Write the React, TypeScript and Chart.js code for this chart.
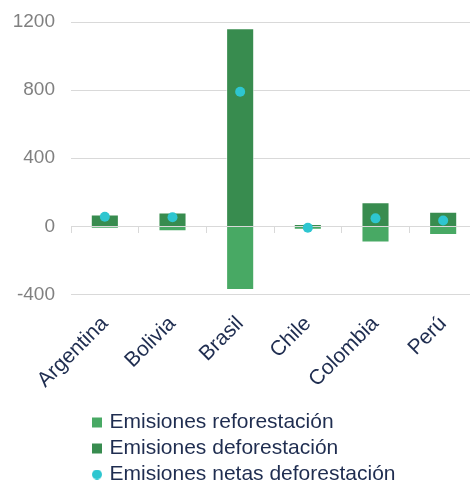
import { useEffect, useRef } from 'react';
import { Chart, registerables } from 'chart.js';

Chart.register(...registerables);

const categories = ['Argentina', 'Bolivia', 'Brasil', 'Chile', 'Colombia', 'Perú'];
const reforestacion = [-14, -28, -373, -20, -94, -51];
const deforestacion = [70, 82, 1163, 12, 141, 86];
const netas = [56, 54, 790, -8, 47, 35];
const yTickValues = [-400, 0, 400, 800, 1200];
const seriesNames = [
  'Emisiones reforestación',
  'Emisiones deforestación',
  'Emisiones netas deforestación',
];

const COLOR_REF = '#48a964';
const COLOR_DEF = '#388c4f';
const COLOR_NET = '#2ec6d0';
const GRID = '#d9d9d9';
const TEXT_DARK = '#1f2d50';
const TEXT_GRAY = '#808080';
const FONT = "'Liberation Sans', Arial, sans-serif";

function makeDot(color: string, d: number) {
  const c = document.createElement('canvas');
  c.width = d;
  c.height = d;
  const g = c.getContext('2d')!;
  g.fillStyle = color;
  g.beginPath();
  g.arc(d / 2, d / 2, d / 2, 0, Math.PI * 2);
  g.fill();
  return c;
}

export default function App() {
  const ref = useRef<HTMLCanvasElement | null>(null);

  useEffect(() => {
    if (!ref.current) return;
    const dot = makeDot(COLOR_NET, 10);
    const legendShift = {
      id: 'legendShift',
      afterLayout(chart: any) {
        const lg = chart.legend;
        if (lg) {
          lg.left += 19;
          lg.right += 19;
        }
      },
    };
    const chart = new Chart(ref.current, {
      type: 'bar',
      data: {
        labels: categories,
        datasets: [
          {
            label: seriesNames[0],
            data: reforestacion,
            backgroundColor: COLOR_REF,
            borderColor: 'rgba(255,255,255,0.6)',
            borderWidth: 1,
            stack: 'bars',
            order: 1,
            barPercentage: 0.415,
            categoryPercentage: 1,
          },
          {
            label: seriesNames[1],
            data: deforestacion,
            backgroundColor: COLOR_DEF,
            borderColor: 'rgba(255,255,255,0.6)',
            borderWidth: 1,
            stack: 'bars',
            order: 1,
            barPercentage: 0.415,
            categoryPercentage: 1,
          },
          {
            type: 'line',
            label: seriesNames[2],
            data: netas,
            showLine: false,
            backgroundColor: COLOR_NET,
            borderColor: COLOR_NET,
            pointRadius: 5,
            pointBorderWidth: 0,
            pointHoverRadius: 5,
            stack: 'net',
            order: 0,
          } as any,
        ],
      },
      options: {
        responsive: false,
        animation: false,
        layout: { padding: { top: 22, left: 0, right: 0, bottom: 0 } },
        plugins: {
          tooltip: { enabled: false },
          legend: {
            position: 'bottom',
            align: 'start',
            fullSize: false,
            labels: {
              usePointStyle: true,
              boxWidth: 4,
              boxHeight: 10,
              padding: 5,
              color: TEXT_DARK,
              font: { family: FONT, size: 21 },
              sort: (a: any, b: any) => a.datasetIndex - b.datasetIndex,
              generateLabels(chart: any) {
                const items = Chart.defaults.plugins.legend.labels.generateLabels(chart);
                return items.map((it: any) => ({
                  ...it,
                  lineWidth: 0,
                  strokeStyle: 'rgba(0,0,0,0)',
                  pointStyle: it.datasetIndex === 2 ? dot : 'rect',
                }));
              },
            },
          },
        },
        scales: {
          x: {
            stacked: true,
            grid: { display: false },
            border: { display: false },
            ticks: {
              color: TEXT_DARK,
              font: { family: FONT, size: 21 },
              minRotation: 45,
              maxRotation: 45,
              autoSkip: false,
              padding: 9,
            },
            afterFit(s: any) {
              s.height = 112.5;
            },
          },
          x2: {
            type: 'category',
            axis: 'x',
            position: { y: 0 },
            offset: true,
            grid: {
              display: true,
              offset: true,
              drawOnChartArea: false,
              drawTicks: true,
              tickLength: 6,
              color: GRID,
            },
            border: { display: true, color: GRID },
            ticks: { display: false },
            afterFit(s: any) {
              s.height = 0;
            },
          } as any,
          y: {
            stacked: true,
            min: -400,
            max: 1200,
            grid: { color: GRID, drawTicks: false },
            border: { display: false },
            ticks: {
              color: TEXT_GRAY,
              font: { family: FONT, size: 19 },
              padding: 16,
              callback: (v: any) => String(v),
            },
            afterBuildTicks(s: any) {
              s.ticks = yTickValues.map((v) => ({ value: v }));
            },
            afterFit(s: any) {
              s.width = 71;
              s.paddingTop = 0;
              s.paddingBottom = 0;
            },
          },
        },
      },
      plugins: [legendShift],
    });
    return () => chart.destroy();
  }, []);

  return (
    <div
      style={{
        position: 'fixed',
        left: 0,
        top: 0,
        width: 470,
        height: 481,
        overflow: 'hidden',
        background: '#ffffff',
      }}
    >
      <canvas ref={ref} width={482} height={495} style={{ display: 'block' }} />
    </div>
  );
}
